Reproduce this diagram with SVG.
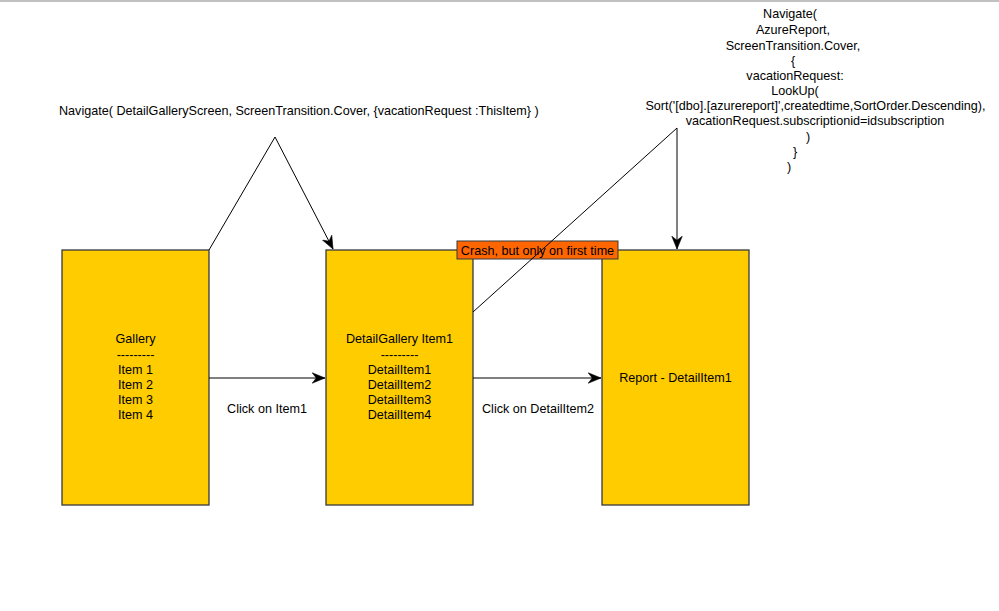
<svg xmlns="http://www.w3.org/2000/svg" width="999" height="611" viewBox="0 0 999 611">
<style>
text{font-family:"Liberation Sans",Arial,sans-serif;font-size:12.6px;fill:#000}
.c{text-anchor:middle}
.box{fill:#FFCC00;stroke:#36393d;stroke-width:1.3}
.ln{fill:none;stroke:#000;stroke-width:1}
</style>
<defs>
<marker id="ah" markerUnits="userSpaceOnUse" markerWidth="14" markerHeight="12" viewBox="-11 -5 12 10" refX="0" refY="0" orient="auto">
<path d="M0,0 L-11,-4.5 L-7.5,0 L-11,4.5 Z" fill="#000" stroke="#000" stroke-width="0.5"/>
</marker>
</defs>
<rect x="0" y="0" width="999" height="611" fill="#fff"/>
<line x1="0" y1="1" x2="999" y2="1" stroke="#c0c0c0" stroke-width="2"/>
<g id="gallery">
<rect class="box" x="62" y="250" width="147" height="255"/>
<text class="c" x="135.5" y="343">Gallery</text>
<text class="c" x="135.5" y="359">---------</text>
<text class="c" x="135.5" y="374">Item 1</text>
<text class="c" x="135.5" y="389">Item 2</text>
<text class="c" x="135.5" y="404">Item 3</text>
<text class="c" x="135.5" y="419">Item 4</text>
</g>
<g id="detailgallery">
<rect class="box" x="326" y="250" width="147" height="255"/>
<text class="c" x="399.5" y="343">DetailGallery Item1</text>
<text class="c" x="399.5" y="359">---------</text>
<text class="c" x="399.5" y="374">DetailItem1</text>
<text class="c" x="399.5" y="389">DetailItem2</text>
<text class="c" x="399.5" y="404">DetailItem3</text>
<text class="c" x="399.5" y="419">DetailItem4</text>
</g>
<g id="report">
<rect class="box" x="602" y="250" width="147" height="255"/>
<text class="c" x="675.5" y="382">Report - DetailItem1</text>
</g>
<g id="crash">
<rect x="457" y="241" width="161" height="18" fill="#FF6600" stroke="#36393d" stroke-width="1"/>
<text class="c" x="537.5" y="254.5">Crash, but only on first time</text>
</g>
<g id="navigate1">
<text x="59" y="115">Navigate( DetailGalleryScreen, ScreenTransition.Cover, {vacationRequest :ThisItem} )</text>
</g>
<g id="navigate2">
<text class="c" x="790" y="18">Navigate(</text>
<text class="c" x="793" y="34">AzureReport,</text>
<text class="c" x="793" y="50">ScreenTransition.Cover,</text>
<text class="c" x="793" y="65">{</text>
<text class="c" x="795" y="80">vacationRequest:</text>
<text class="c" x="795" y="95">LookUp(</text>
<text class="c" x="815.5" y="110">Sort('[dbo].[azurereport]',createdtime,SortOrder.Descending),</text>
<text class="c" x="815" y="125">vacationRequest.subscriptionid=idsubscription</text>
<text class="c" x="808" y="141">)</text>
<text class="c" x="795" y="156">}</text>
<text class="c" x="789" y="171">)</text>
</g>
<g id="click1"><text class="c" x="267" y="413">Click on Item1</text></g>
<g id="click2"><text class="c" x="538" y="413">Click on DetailItem2</text></g>
<g id="connectors">
<polyline class="ln" points="209,250 275,137 333,249" marker-end="url(#ah)"/>
<polyline class="ln" points="473,312 677,128 677,249" marker-end="url(#ah)"/>
<line class="ln" x1="209" y1="378" x2="325" y2="378" marker-end="url(#ah)"/>
<line class="ln" x1="473" y1="378" x2="601" y2="378" marker-end="url(#ah)"/>
</g>
</svg>
